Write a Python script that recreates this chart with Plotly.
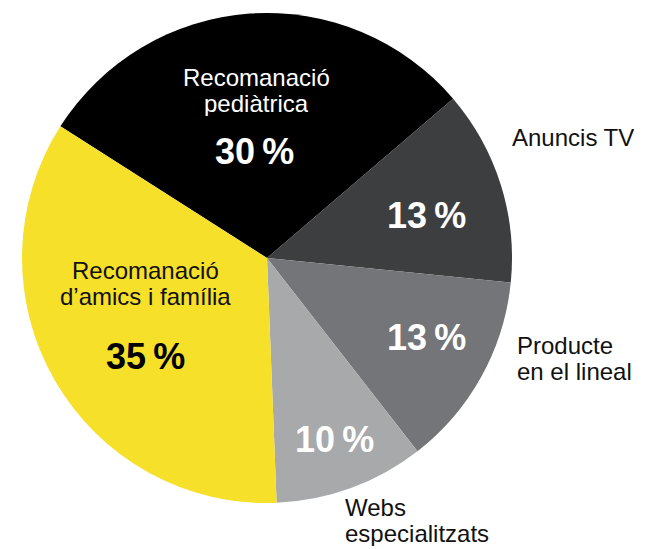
import plotly.graph_objects as go

categories = ["Recomanació pediàtrica", "Anuncis TV", "Producte en el lineal",
              "Webs especialitzats", "Recomanació d'amics i família"]
values = [30, 13, 13, 10, 35]
colors = ["#000000", "#3d3e40", "#737578", "#a7a9ab", "#f6e02a"]

W, H = 649, 549
cx, cy, r = 267, 258, 245

fig = go.Figure(go.Pie(
    labels=categories, values=values, sort=False, direction="clockwise",
    rotation=-57.5, textinfo="none", hoverinfo="label+value",
    marker=dict(colors=colors, line=dict(width=0)),
    domain=dict(x=[(cx - r) / W, (cx + r) / W], y=[1 - (cy + r) / H, 1 - (cy - r) / H]),
    showlegend=False,
))

FONT = "Liberation Sans, Arial, Helvetica, sans-serif"

def ann(x, y, text, size, color, bold=False, xanchor="center", h=None):
    fig.add_annotation(x=x / W, y=1 - y / H, xref="paper", yref="paper",
                       text=("<b>%s</b>" % text) if bold else text,
                       showarrow=False, xanchor=xanchor, yanchor="middle",
                       height=h, valign="middle", borderpad=0,
                       font=dict(family=FONT, size=size, color=color))

lab = 24
pct = 36
LH = 26
# names (one annotation per line to keep tight line spacing)
ann(256, 77, "Recomanació", lab, "white", h=LH)
ann(256, 103, "pediàtrica", lab, "white", h=LH)
ann(511, 137, "Anuncis TV", lab, "#111", xanchor="left", h=LH)
ann(516, 345, "Producte", lab, "#111", xanchor="left", h=LH)
ann(516, 371, "en el lineal", lab, "#111", xanchor="left", h=LH)
ann(344, 507, "Webs", lab, "#111", xanchor="left", h=LH)
ann(344, 533, "especialitzats", lab, "#111", xanchor="left", h=LH)
ann(145, 270, "Recomanació", lab, "#111", h=LH)
ann(145, 296, "d’amics i família", lab, "#111", h=LH)
# percentages
ann(255, 152, "%d\u2009%%" % values[0], pct, "white", bold=True)
ann(426, 215, "%d\u2009%%" % values[1], pct, "white", bold=True)
ann(426, 337, "%d\u2009%%" % values[2], pct, "white", bold=True)
ann(334, 439, "%d\u2009%%" % values[3], pct, "white", bold=True)
ann(145, 356, "%d\u2009%%" % values[4], pct, "black", bold=True)

fig.update_layout(width=W, height=H, margin=dict(l=0, r=0, t=0, b=0),
                  paper_bgcolor="white", plot_bgcolor="white")
fig.write_html("out.html", config={"displayModeBar": False},
               post_script="document.body.style.margin='0';")
